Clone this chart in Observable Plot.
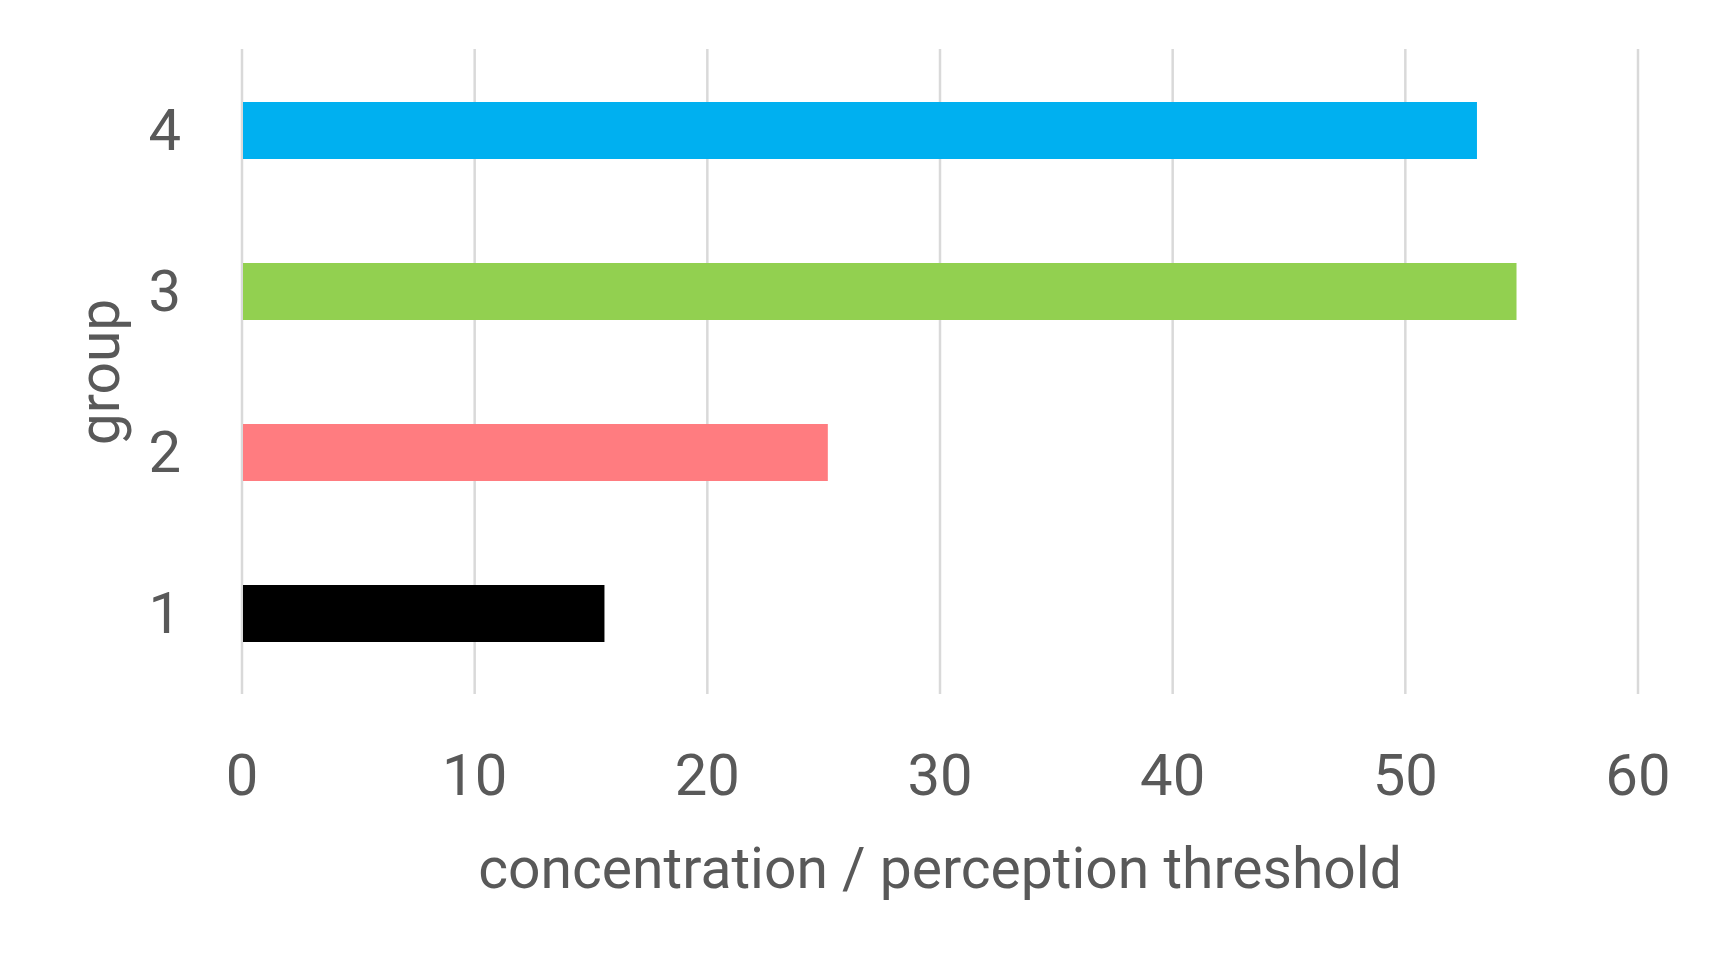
<!DOCTYPE html>
<html>
<head>
<meta charset="utf-8">
<script src="https://cdn.jsdelivr.net/npm/d3@7"></script>
<script src="https://cdn.jsdelivr.net/npm/@observablehq/plot@0.6"></script>
<style>
  html, body { margin: 0; padding: 0; background: #ffffff; }
</style>
</head>
<body>
<div id="chart"></div>
<script>
const groups = ["1", "2", "3", "4"];
const values = [15.6, 25.2, 54.8, 53.1];
const colors = ["#000000", "#FF7C80", "#92D050", "#00B0F0"];
const xTicks = [0, 10, 20, 30, 40, 50, 60];
const xTitle = "concentration / perception threshold";
const yTitle = "group";

const data = groups.map((g, i) => ({group: g, value: values[i]}));

const chart = Plot.plot({
  width: 1721,
  height: 962,
  marginLeft: 241.5,
  marginRight: 83.5,
  marginTop: 49,
  marginBottom: 268,
  style: {fontFamily: "Roboto, 'Open Sans', sans-serif", color: "#595959", background: "#ffffff"},
  x: {domain: [0, 60]},
  y: {domain: [...groups].reverse(), paddingInner: 0.647, paddingOuter: 0.3235},
  color: {domain: groups, range: colors},
  marks: [
    Plot.gridX(xTicks, {stroke: "#d9d9d9", strokeWidth: 2.5, strokeOpacity: 1}),
    Plot.barX(data, {x: "value", y: "group", fill: "group", insetLeft: 1.5}),
    Plot.axisX({ticks: xTicks, tickSize: 0, tickPadding: 59, fontSize: 58, label: null, fill: "#595959"}),
    Plot.axisY({tickSize: 0, tickPadding: 61, fontSize: 58, label: null, fill: "#595959"}),
    Plot.text([xTitle], {frameAnchor: "bottom", dy: 175, lineAnchor: "middle", textAnchor: "middle", fontSize: 57, fill: "#595959", text: d => d}),
    Plot.text([yTitle], {frameAnchor: "left", dx: -141, rotate: -90, lineAnchor: "middle", textAnchor: "middle", fontSize: 57, fill: "#595959", text: d => d})
  ]
});
document.getElementById("chart").appendChild(chart);
</script>
</body>
</html>
